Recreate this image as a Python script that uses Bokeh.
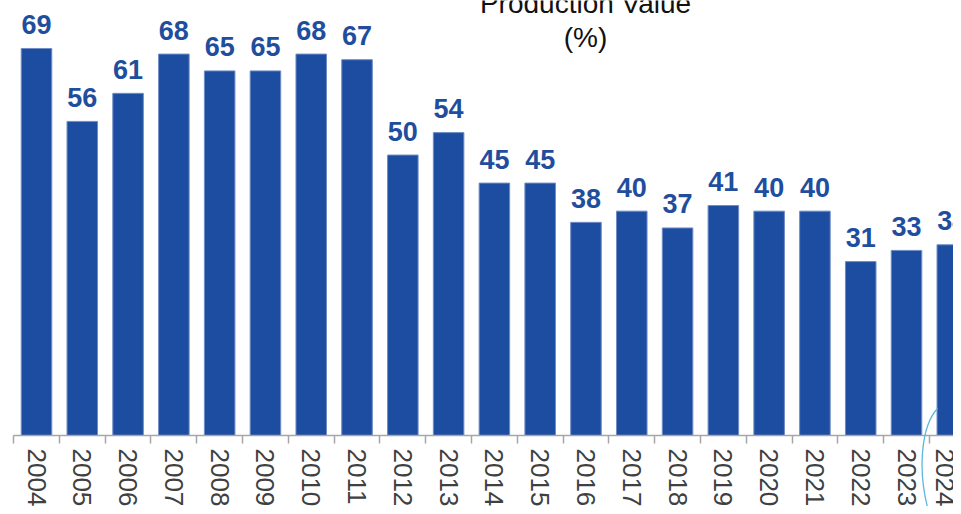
from bokeh.plotting import figure
from bokeh.models import Range1d, LinearAxis, FixedTicker, Label, ColumnDataSource
from bokeh.core.properties import value
from bokeh.embed import file_html
from bokeh.resources import INLINE

# ---- data ----
years = ["2004", "2005", "2006", "2007", "2008", "2009", "2010", "2011", "2012", "2013",
         "2014", "2015", "2016", "2017", "2018", "2019", "2020", "2021", "2022", "2023", "2024"]
shares = [69, 56, 61, 68, 65, 65, 68, 67, 50, 54, 45, 45, 38, 40, 37, 41, 40, 40, 31, 33, 34]
title_lines = ["Production Value", "(%)"]

BAR = "#1C4DA0"
LABEL = "#1F4E9E"
AXIS = "#A6A6A6"
FONT = "Liberation Sans"

W, H = 953, 506
BASE_PX = 435            # pixel row of the category axis
px_per_cat = 45.79
px_per_unit = 5.609
x_start = -36 / px_per_cat
x_end = x_start + W / px_per_cat
y_end = BASE_PX / px_per_unit
y_start = -(H - BASE_PX) / px_per_unit


def sx(px):
    return x_start + px / px_per_cat


def sy(py):
    return y_end - py / px_per_unit


idx = list(range(len(years)))
src = ColumnDataSource(dict(x=idx, top=shares, lab=[str(v) for v in shares]))

p = figure(width=W, height=H, output_backend="svg", toolbar_location=None,
           x_range=Range1d(x_start, x_end), y_range=Range1d(y_start, y_end),
           x_axis_location=None, y_axis_location=None,
           min_border_left=0, min_border_right=0, min_border_top=0, min_border_bottom=0)
p.outline_line_color = None
p.xgrid.visible = False
p.ygrid.visible = False
p.background_fill_color = "white"
p.border_fill_color = "white"

p.vbar(x="x", top="top", bottom=0, width=0.667, source=src,
       fill_color=BAR, line_color="#6F8CC6", line_width=1)

p.text(x="x", y="top", text="lab", source=src, y_offset=-24,
       text_align="center", text_baseline="alphabetic",
       text_font=value(FONT), text_font_style="bold", text_font_size="27px",
       text_color=LABEL)

xaxis = LinearAxis(ticker=FixedTicker(ticks=idx, minor_ticks=[i - 0.5 for i in idx]),
                   fixed_location=0)
xaxis.major_label_overrides = {i: y for i, y in zip(idx, years)}
xaxis.major_label_orientation = "vertical"
xaxis.major_label_text_font = FONT
xaxis.major_label_text_font_size = "26px"
xaxis.major_label_text_color = "#404040"
xaxis.major_label_standoff = 5
xaxis.major_tick_line_color = None
xaxis.major_tick_out = 0
xaxis.major_tick_in = 0
xaxis.minor_tick_line_color = AXIS
xaxis.minor_tick_line_width = 1.5
xaxis.minor_tick_out = 8
xaxis.minor_tick_in = 0
xaxis.axis_line_color = AXIS
xaxis.axis_line_width = 1.5
xaxis.bounds = (-0.5, x_end)
p.add_layout(xaxis, "below")

# decorative light-blue swoosh at the lower right of the source slide
p.bezier(x0=[sx(937)], y0=[sy(408)], cx0=[sx(921)], cy0=[sy(425)],
         cx1=[sx(916)], cy1=[sy(470)], x1=[sx(929)], y1=[sy(514)],
         line_color="#5DB7E0", line_width=1.3, level="overlay")

# title (two centred lines, partly cut at the top like the source)
title_x = sx(585)
for line, base_px in zip(title_lines, [3, 37]):
    p.add_layout(Label(x=title_x, y=sy(base_px), text=line,
                       text_align="center", text_baseline="alphabetic",
                       text_font=FONT, text_font_size="28px", text_color="#111111"))

open("out.html", "w").write(file_html(p, INLINE))
